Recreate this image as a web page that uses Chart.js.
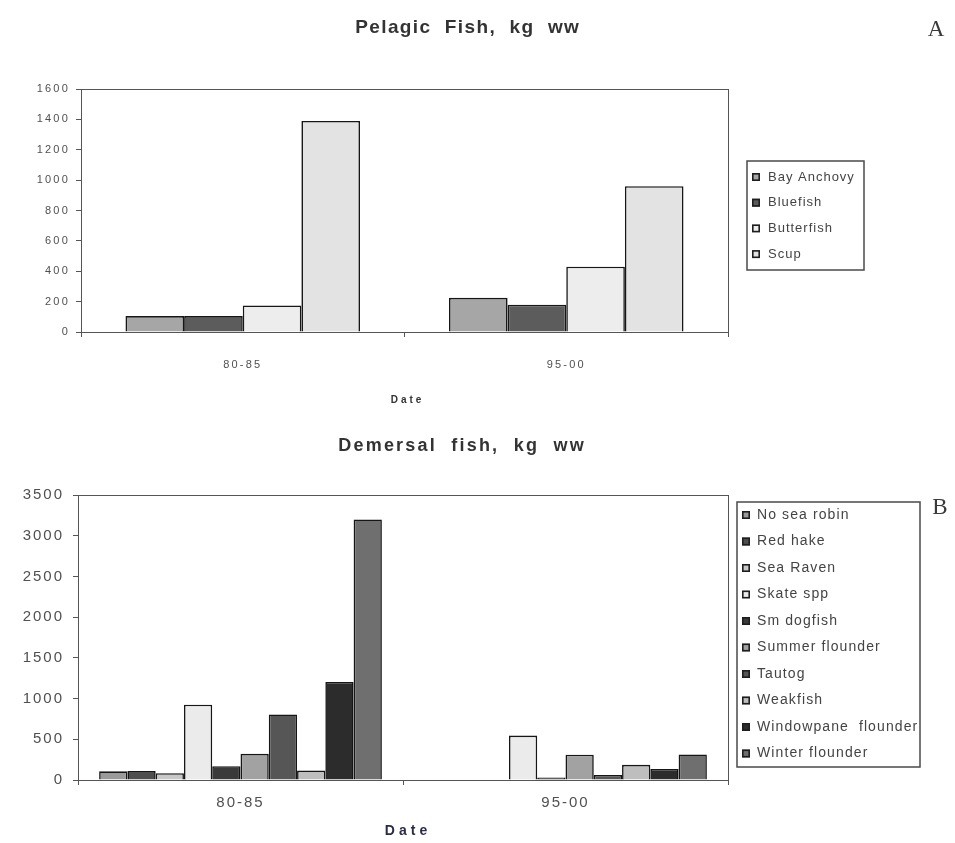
<!DOCTYPE html>
<html>
<head>
<meta charset="utf-8">
<script src="https://cdn.jsdelivr.net/npm/chart.js@4/dist/chart.umd.min.js"></script>
<style>
  html, body { margin: 0; padding: 0; background: #fff; }
  #wrap { position: relative; width: 955px; height: 843px; overflow: hidden; background: #fff; }
  canvas { position: absolute; left: 0; }
  #pelagic { top: 0; }
  #demersal { top: 430px; }
</style>
</head>
<body>
<div id="wrap">
  <canvas id="pelagic" width="955" height="430"></canvas>
  <canvas id="demersal" width="955" height="413"></canvas>
</div>
<script>
// ---- data -------------------------------------------------------------
const periods = ['80-85', '95-00'];

// Panel A: pelagic fish, kg wet weight
const pelagicSpecies = ['Bay Anchovy', 'Bluefish', 'Butterfish', 'Scup'];
const bayAnchovy = [105, 225];
const bluefish   = [105, 180];
const butterfish = [175, 430];
const scup       = [1390, 960];
const pelagicTicks = [0, 200, 400, 600, 800, 1000, 1200, 1400, 1600];

// Panel B: demersal fish, kg wet weight
const demersalSpecies = ['No sea robin', 'Red hake', 'Sea Raven', 'Skate spp', 'Sm dogfish',
  'Summer flounder', 'Tautog', 'Weakfish', 'Windowpane  flounder', 'Winter flounder'];
const noSeaRobin      = [107, 0];
const redHake         = [110, 0];
const seaRaven        = [83, 0];
const skateSpp        = [925, 545];
const smDogfish       = [170, 30];
const summerFlounder  = [322, 310];
const tautog          = [805, 62];
const weakfish        = [116, 186];
const windowpane      = [1205, 136];
const winterFlounder  = [3200, 314];
const demersalTicks = [0, 500, 1000, 1500, 2000, 2500, 3000, 3500];

// ---- styling ------------------------------------------------------------
const SANS = '"Liberation Sans", Arial, Helvetica, sans-serif';
const SERIF = '"Liberation Serif", "Times New Roman", serif';
const pelagicFills = ['#a6a6a6', '#5c5c5c', '#ededed', '#e3e3e3'];
const demersalFills = ['#9a9a9a', '#4e4e4e', '#c8c8c8', '#ebebeb', '#3a3a3a',
  '#a2a2a2', '#565656', '#bebebe', '#2c2c2c', '#6f6f6f'];

function drawText(ctx, str, x, y, font, color, spacing, align) {
  ctx.save();
  ctx.font = font;
  ctx.fillStyle = color;
  ctx.letterSpacing = spacing + 'px';
  ctx.textBaseline = 'middle';
  ctx.textAlign = 'left';
  const w = ctx.measureText(str).width;
  let sx = x;
  if (align === 'center') sx = x - (w - spacing) / 2;
  else if (align === 'right') sx = x - (w - spacing);
  ctx.fillText(str, sx, y);
  ctx.restore();
}

// Draws the plot frame, headings, panel letter, axis title and boxed legend.
function panelDecor(cfg) {
  return {
    id: 'panelDecor',
    beforeDraw(chart) {
      chart.ctx.letterSpacing = cfg.tickSpacing + 'px';
    },
    afterDraw(chart) {
      const ctx = chart.ctx;
      const a = chart.chartArea;
      ctx.save();
      ctx.letterSpacing = '0px';
      ctx.strokeStyle = '#555';
      ctx.lineWidth = 1;
      ctx.strokeRect(Math.round(a.left) + 0.5, Math.round(a.top) + 0.5,
        Math.round(a.right - a.left), Math.round(a.bottom - a.top));
      ctx.restore();

      const t = cfg.title;
      drawText(ctx, t.text, t.x, t.y, t.font, t.color, t.spacing, 'center');
      const p = cfg.letter;
      drawText(ctx, p.text, p.x, p.y, p.font, '#3a3a3a', 0, 'center');
      const d = cfg.axisTitle;
      drawText(ctx, d.text, d.x, d.y, d.font, d.color, d.spacing, 'center');

      const lg = cfg.legend;
      ctx.save();
      ctx.letterSpacing = '0px';
      ctx.strokeStyle = '#4a4a4a';
      ctx.lineWidth = 1.5;
      ctx.strokeRect(lg.left, lg.top, lg.right - lg.left, lg.bottom - lg.top);
      chart.data.datasets.forEach((ds, i) => {
        const y = lg.y0 + i * lg.step;
        ctx.fillStyle = ds.backgroundColor;
        ctx.fillRect(lg.swatchX, y - 4, 8, 8);
        ctx.strokeStyle = '#1e1e1e';
        ctx.lineWidth = 1.6;
        ctx.strokeRect(lg.swatchX + 0.8, y - 3.2, 6.4, 6.4);
        drawText(ctx, ds.label, lg.textX, y, lg.font, '#444', lg.spacing, 'left');
      });
      ctx.restore();
    }
  };
}

function makeDatasets(names, series, fills) {
  return names.map((name, i) => ({
    label: name,
    data: series[i],
    backgroundColor: fills[i],
    borderColor: '#161616',
    borderWidth: 1.6,
    barPercentage: 1.0
  }));
}

function fixedTicks(values) {
  return (scale) => { scale.ticks = values.map(v => ({ value: v })); };
}
const plainNumber = (v) => String(v);

// ---- panel A ------------------------------------------------------------
new Chart(document.getElementById('pelagic'), {
  type: 'bar',
  data: {
    labels: periods,
    datasets: makeDatasets(pelagicSpecies, [bayAnchovy, bluefish, butterfish, scup], pelagicFills)
      .map(d => Object.assign(d, { categoryPercentage: 0.725 }))
  },
  options: {
    responsive: false,
    animation: false,
    events: [],
    layout: { padding: { left: 0, top: 89, right: 227, bottom: 0 } },
    plugins: { legend: { display: false }, title: { display: false }, tooltip: { enabled: false } },
    scales: {
      x: {
        grid: { display: true, drawOnChartArea: false, offset: true, tickLength: 5, color: '#555' },
        border: { color: '#555', width: 1 },
        ticks: { font: { family: SANS, size: 11 }, color: '#505050', padding: 21 },
        afterFit: (s) => { s.height = 98; }
      },
      y: {
        min: 0, max: 1600,
        afterBuildTicks: fixedTicks(pelagicTicks),
        grid: { display: true, drawOnChartArea: false, tickLength: 5, color: '#555' },
        border: { color: '#555', width: 1 },
        ticks: { font: { family: SANS, size: 11 }, color: '#505050', padding: 6, callback: plainNumber },
        afterFit: (s) => { s.width = 81; }
      }
    }
  },
  plugins: [panelDecor({
    tickSpacing: 2.2,
    title: { text: 'Pelagic  Fish,  kg  ww', x: 467, y: 28, font: 'bold 19px ' + SANS, color: '#333', spacing: 1.4 },
    letter: { text: 'A', x: 936, y: 30, font: '23px ' + SERIF },
    axisTitle: { text: 'Date', x: 406, y: 400, font: 'bold 10px ' + SANS, color: '#333', spacing: 3 },
    legend: { left: 747, top: 161, right: 864, bottom: 270, swatchX: 752, textX: 768, y0: 177, step: 25.7,
      font: '13px ' + SANS, spacing: 1 }
  })]
});

// ---- panel B ------------------------------------------------------------
new Chart(document.getElementById('demersal'), {
  type: 'bar',
  data: {
    labels: periods,
    datasets: makeDatasets(demersalSpecies,
      [noSeaRobin, redHake, seaRaven, skateSpp, smDogfish, summerFlounder, tautog, weakfish, windowpane, winterFlounder],
      demersalFills).map(d => Object.assign(d, { categoryPercentage: 0.87 }))
  },
  options: {
    responsive: false,
    animation: false,
    events: [],
    layout: { padding: { left: 0, top: 65, right: 227, bottom: 0 } },
    plugins: { legend: { display: false }, title: { display: false }, tooltip: { enabled: false } },
    scales: {
      x: {
        grid: { display: true, drawOnChartArea: false, offset: true, tickLength: 5, color: '#555' },
        border: { color: '#555', width: 1 },
        ticks: { font: { family: SANS, size: 15 }, color: '#505050', padding: 9 },
        afterFit: (s) => { s.height = 63; }
      },
      y: {
        min: 0, max: 3500,
        afterBuildTicks: fixedTicks(demersalTicks),
        grid: { display: true, drawOnChartArea: false, tickLength: 5, color: '#555' },
        border: { color: '#555', width: 1 },
        ticks: { font: { family: SANS, size: 15 }, color: '#505050', padding: 9, callback: plainNumber },
        afterFit: (s) => { s.width = 78; }
      }
    }
  },
  plugins: [panelDecor({
    tickSpacing: 2,
    title: { text: 'Demersal  fish,  kg  ww', x: 461, y: 16, font: 'bold 18px ' + SANS, color: '#333', spacing: 2.2 },
    letter: { text: 'B', x: 940, y: 78, font: '23px ' + SERIF },
    axisTitle: { text: 'Date', x: 406, y: 401, font: 'bold 14px ' + SANS, color: '#2b2b48', spacing: 4 },
    legend: { left: 737, top: 72, right: 920, bottom: 337, swatchX: 742, textX: 757, y0: 85, step: 26.5,
      font: '14px ' + SANS, spacing: 1.1 }
  })]
});
</script>
</body>
</html>
